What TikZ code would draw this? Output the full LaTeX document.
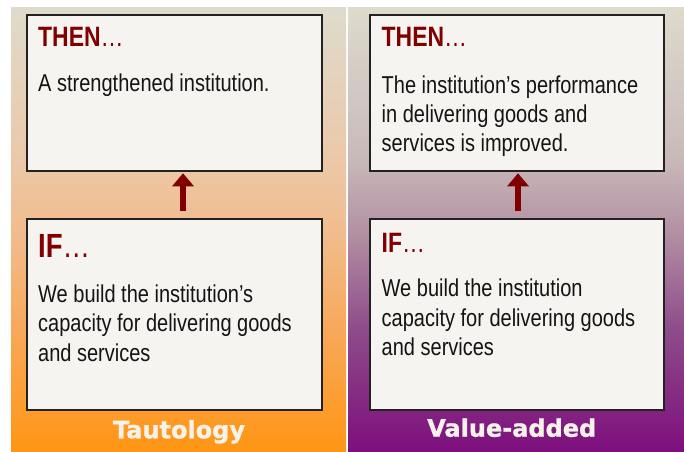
\documentclass[tikz,border=0pt]{standalone}
\usepackage{fontspec}
\setmainfont{Liberation Sans}
\newfontfamily\narrowfont[FakeStretch=0.82]{Liberation Sans}
\newfontfamily\labelfont[FakeBold=1.2]{DejaVu Sans}
\usetikzlibrary{arrows.meta,calc}
\definecolor{bgtop}{RGB}{222,219,205}
\definecolor{ltA}{RGB}{255,150,20}
\definecolor{ltB}{RGB}{248,168,90}
\definecolor{ltC}{RGB}{241,188,140}
\definecolor{ltD}{RGB}{236,200,168}
\definecolor{rtA}{RGB}{125,15,125}
\definecolor{rtB}{RGB}{142,75,138}
\definecolor{rtC}{RGB}{178,142,162}
\definecolor{rtD}{RGB}{200,185,185}
\definecolor{boxfill}{RGB}{246,244,240}
\definecolor{boxline}{RGB}{34,34,34}
\definecolor{darkred}{RGB}{128,0,0}
\definecolor{bodytext}{RGB}{20,20,20}
\definecolor{labeltext}{RGB}{246,242,234}
\pgfdeclareverticalshading{tautshade}{100bp}{color(0bp)=(ltA); color(25bp)=(ltA); color(38.6bp)=(ltB); color(49.3bp)=(ltC); color(57.8bp)=(ltD); color(75bp)=(bgtop); color(100bp)=(bgtop)}
\pgfdeclareverticalshading{valshade}{100bp}{color(0bp)=(rtA); color(25bp)=(rtA); color(38.6bp)=(rtB); color(49.3bp)=(rtC); color(57.8bp)=(rtD); color(75bp)=(bgtop); color(100bp)=(bgtop)}
\tikzset{
  card/.style={draw=boxline, fill=boxfill, line width=1.5pt, minimum width=295pt, inner sep=0pt},
  headsmall/.style={anchor=base west, inner sep=0pt, text=darkred, font=\narrowfont\fontsize{28}{32}\selectfont},
  headbig/.style={anchor=base west, inner sep=0pt, text=darkred, font=\narrowfont\fontsize{33.5}{38}\selectfont},
  bodyline/.style={anchor=base west, inner sep=0pt, text=bodytext, font=\narrowfont\fontsize{24.4}{29.3}\selectfont},
  panellabel/.style={anchor=base, inner sep=0pt, text=labeltext, font=\labelfont\bfseries\fontsize{24}{28}\selectfont},
  uparrow/.style={draw=darkred, line width=6pt, -{Triangle[width=21pt,length=13pt]}}
}
\begin{document}
\begin{tikzpicture}[x=1pt,y=-1pt]
\useasboundingbox (0,0) rectangle (684,451);
\fill[white] (0,0) rectangle (684,451);
\shade[shading=tautshade] (11,7) rectangle (346,451);
\shade[shading=valshade] (348,7) rectangle (684,451);
% boxes
\node[card, minimum height=156pt] (then1) at (174.5,93) {};
\node[card, minimum height=191pt] (if1) at (174.5,314.5) {};
\node[card, minimum width=294pt, minimum height=156pt] (then2) at (517,93) {};
\node[card, minimum width=294pt, minimum height=191pt] (if2) at (517,314.5) {};
% arrows
\coordinate (a1s) at ($(if1.north)+(8.5,-7)$);
\coordinate (a1e) at ($(then1.south)+(8.5,1.5)$);
\coordinate (a2s) at ($(if2.north)+(1,-7)$);
\coordinate (a2e) at ($(then2.south)+(1,1.5)$);
\draw[uparrow] (a1s) -- (a1e);
\draw[uparrow] (a2s) -- (a2e);
% left texts
\node[headsmall] (t1h) at (38,46.7) {\textbf{THEN}…};
\node[bodyline] (t1l1) at (38,91.7) {A strengthened institution.};
\node[headbig] (i1h) at (38,257.3) {\textbf{IF}…};
\node[bodyline] (i1l1) at (38,302.3) {We build the institution’s};
\node[bodyline] (i1l2) at (38,331.7) {capacity for delivering goods};
\node[bodyline] (i1l3) at (38,361) {and services};
% right texts
\node[headsmall] (t2h) at (381.5,46.7) {\textbf{THEN}…};
\node[bodyline] (t2l1) at (381.5,93.3) {The institution’s performance};
\node[bodyline] (t2l2) at (381.5,122.6) {in delivering goods and};
\node[bodyline] (t2l3) at (381.5,151.9) {services is improved.};
\node[headsmall] (i2h) at (381.5,252.3) {\textbf{IF}…};
\node[bodyline] (i2l1) at (381.5,296.7) {We build the institution};
\node[bodyline] (i2l2) at (381.5,326) {capacity for delivering goods};
\node[bodyline] (i2l3) at (381.5,355.3) {and services};
% panel labels
\node[panellabel] (lab1) at (179,438.3) {Tautology};
\node[panellabel] (lab2) at (511.7,436.7) {Value-added};
\end{tikzpicture}
\end{document}
